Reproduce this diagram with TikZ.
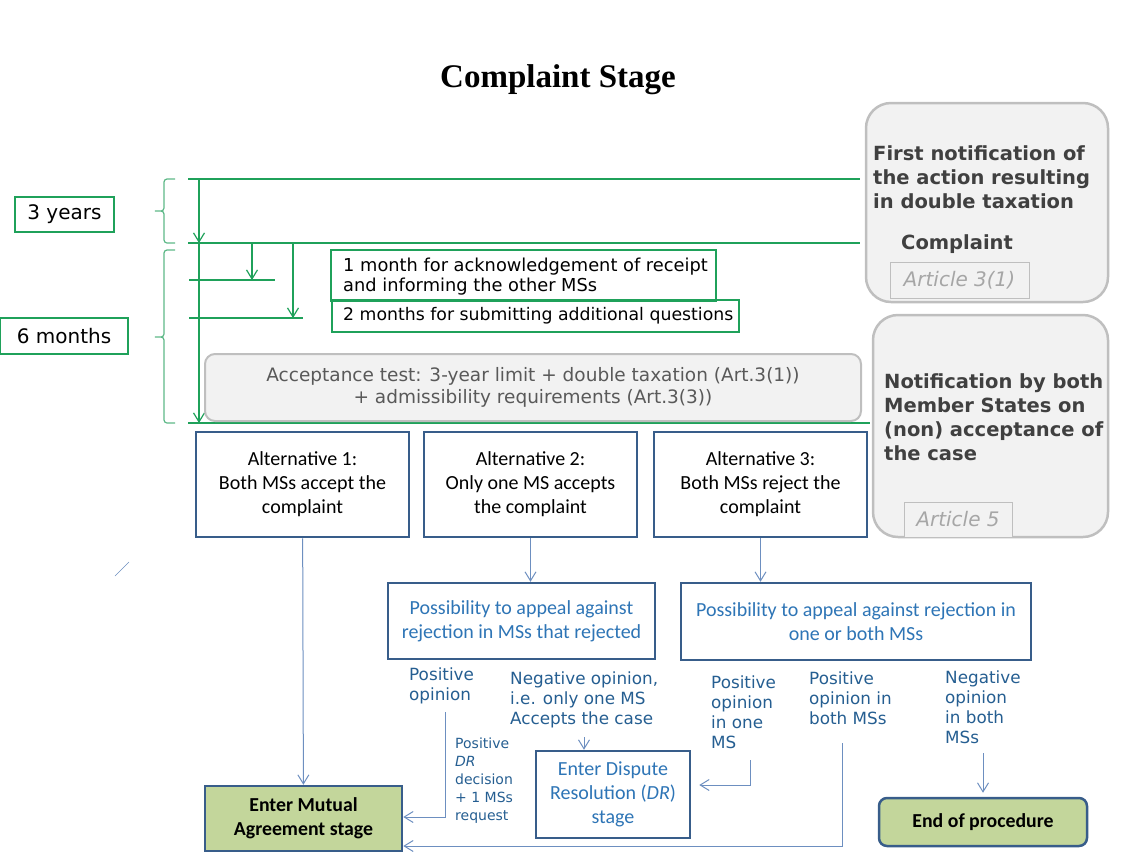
\documentclass[tikz,border=0pt]{standalone}
\usepackage{fontspec}
\setmainfont{DejaVu Sans}
\newfontfamily\calib{Carlito}
\newfontfamily\tnr{Liberation Serif}
\usetikzlibrary{arrows.meta,positioning}

\definecolor{tl}{HTML}{1FA15A}
\definecolor{br}{HTML}{5DB887}
\definecolor{navy}{HTML}{385D8A}
\definecolor{cn}{HTML}{6D8FC0}
\definecolor{bluetxt}{HTML}{2E75B6}
\definecolor{labtxt}{HTML}{255E91}
\definecolor{grayfill}{HTML}{F2F2F2}
\definecolor{grayline}{HTML}{BFBFBF}
\definecolor{darktxt}{HTML}{404040}
\definecolor{midtxt}{HTML}{595959}
\definecolor{arttxt}{HTML}{A6A6A6}
\definecolor{olive}{HTML}{C3D69B}

\begin{document}
\begin{tikzpicture}[x=1pt,y=-1pt,>={Straight Barb[length=9pt,width=11pt]},
    gline/.style={draw=tl,line width=1.2pt},
    gbrace/.style={draw=br,line width=1.2pt,rounded corners=3pt},
    conn/.style={draw=cn,line width=1pt,->},
    timebox/.style={draw=tl,line width=1.2pt,font=\fontsize{20}{24}\selectfont},
    notebox/.style={draw=tl,line width=1.2pt},
    notetext/.style={align=left,anchor=west,inner sep=0pt,font=\fontsize{17.8}{20}\selectfont},
    altbox/.style={draw=navy,line width=2.5pt,fill=white,minimum width=213pt,minimum height=105pt,
      align=center,font=\calib\fontsize{20}{24}\selectfont},
    appeal/.style={draw=navy,line width=2.5pt,fill=white,align=center,text=bluetxt,
      font=\calib\fontsize{20}{24}\selectfont},
    grayrule/.style={draw=grayline,line width=2.5pt,fill=grayfill},
    artbox/.style={draw=grayline,line width=0.8pt,fill=grayfill,text=arttxt,
      font=\itshape\fontsize{20}{22}\selectfont},
    bold/.style={text=darktxt,align=left,anchor=west,inner sep=0pt,
      font=\bfseries\fontsize{19.5}{24}\selectfont},
    lab/.style={text=labtxt,align=left,anchor=west,inner sep=0pt,
      font=\fontsize{16.8}{20}\selectfont},
    stagebox/.style={draw=navy,line width=2.5pt,fill=olive,align=center,
      font=\calib\bfseries\fontsize{19.8}{24}\selectfont}]
\useasboundingbox (0,0) rectangle (1127,855);

% title
\node[anchor=base] (title) at (558,87) {\tnr\bfseries\fontsize{33}{36}\selectfont Complaint Stage};

% time periods
\node[timebox,minimum width=99pt,minimum height=35pt] (yrs) at (64.5,214.5) {3 years};
\node[timebox,minimum width=128pt,minimum height=36pt] (mon) at (64,336) {6 months};
\draw[gbrace] (175,179) -- (164,179) -- (164,211) -- (153,211) -- (164,211) -- (164,243) -- (175,243);
\draw[gbrace] (175,250) -- (164,250) -- (164,337) -- (153,337) -- (164,337) -- (164,423) -- (175,423);

% time line
\coordinate (t1l) at (188,179);  \coordinate (t1r) at (860,179);
\coordinate (t2l) at (188,243);  \coordinate (t2r) at (860,243);
\coordinate (t3l) at (188,423);  \coordinate (t3r) at (870,423);
\coordinate (m1l) at (189,280);  \coordinate (m1r) at (275,280);
\coordinate (m2l) at (189,318);  \coordinate (m2r) at (303,318);
\draw[gline] (t1l) -- (t1r);
\draw[gline] (t2l) -- (t2r);
\draw[gline] (t3l) -- (t3r);
\draw[gline] (m1l) -- (m1r);
\draw[gline] (m2l) -- (m2r);
\draw[gline,->] (t1l -| 199,0) -- (t2l -| 199,0);
\draw[gline,->] (t2l -| 199,0) -- (t3l -| 199,0);
\draw[gline,->] (t2l -| 252,0) -- (m1l -| 252,0);
\draw[gline,->] (t2l -| 293,0) -- (m2l -| 293,0);

\node[notebox,minimum width=385pt,minimum height=51pt] (ack) at (523.5,275.5) {};
\node[notetext] (acktext) at (343,277) {1 month for acknowledgement of receipt\\and informing the other MSs};
\node[notebox,minimum width=407pt,minimum height=32pt] (quest) at (535.5,316) {};
\node[notetext,font=\fontsize{17.3}{20}\selectfont] (questtext) at (343,316)
  {2 months for submitting additional questions};
\node[grayrule,line width=2pt,rounded corners=10pt,minimum width=656pt,minimum height=67pt,
  align=center,text=midtxt,font=\fontsize{18.5}{22}\selectfont] (test) at (533,387.5)
  {Acceptance test: 3-year limit + double taxation (Art.3(1))\\+ admissibility requirements (Art.3(3))};

% notes on the right
\node[grayrule,rounded corners=25pt,minimum width=242pt,minimum height=199pt] (note1) at (987,202.5) {};
\node[bold] (first) at (873,177) {First notification of\\the action resulting\\in double taxation};
\node[bold] (compl) at (901,244) {Complaint};
\node[artbox,minimum width=139pt,minimum height=36pt] (art1) at (959.5,280) {Article 3(1)};
\node[grayrule,rounded corners=25pt,minimum width=235pt,minimum height=222pt] (note2) at (990.5,426) {};
\node[bold] (notif) at (884,417) {Notification by both\\Member States on\\(non) acceptance of\\the case};
\node[artbox,minimum width=108pt,minimum height=35pt] (art5) at (958,519.5) {Article 5};

% alternatives
\node[altbox] (alt1) at (302.5,484.5) {Alternative 1:\\Both MSs accept the\\complaint};
\node[altbox] (alt2) at (530.5,484.5) {Alternative 2:\\Only one MS accepts\\the complaint};
\node[altbox] (alt3) at (760.5,484.5) {Alternative 3:\\Both MSs reject the\\complaint};

\node[appeal,minimum width=267pt,minimum height=76pt] (app1) at (521.5,621)
  {Possibility to appeal against\\rejection in MSs that rejected};
\node[appeal,minimum width=350pt,minimum height=77pt] (app2) at (856,621.5)
  {Possibility to appeal against rejection in\\one or both MSs};

% opinions
\node[lab] (pos1) at (409,686) {Positive\\opinion};
\node[lab] (neg1) at (510,700) {Negative opinion,\\i.e. only one MS\\Accepts the case};
\node[lab,font=\fontsize{14}{18}\selectfont] (dec) at (455,781) {Positive\\\textit{DR}\\decision\\+ 1 MSs\\request};
\node[lab] (pos2) at (711,712) {Positive\\opinion\\in one\\MS};
\node[lab] (pos3) at (809,698) {Positive\\opinion in\\both MSs};
\node[lab] (neg2) at (945,707) {Negative\\opinion\\in both\\MSs};

% stages
\node[appeal,minimum width=154pt,minimum height=87pt] (dr) at (613,794.5)
  {Enter Dispute\\Resolution (\textit{DR})\\stage};
\node[stagebox,minimum width=197pt,minimum height=65pt] (ma) at (303.5,818.5) {Enter Mutual\\Agreement stage};
\node[stagebox,rounded corners=8pt,minimum width=208pt,minimum height=48pt] (endp) at (983,822) {End of procedure};

% connectors
\coordinate (p1) at (445,712);
\coordinate (n1) at (584,737);
\coordinate (p2) at (750,760);
\coordinate (p3) at (842,743);
\coordinate (n2) at (983,753);
\path (alt1) edge[conn] (ma);
\draw[conn] (alt2.south) -- (alt2.south |- app1.north);
\draw[conn] (alt3.south) -- (alt3.south |- app2.north);
\draw[conn] (p1) |- ([yshift=1.5pt]ma.east);
\draw[conn] (p3) |- ([yshift=-27.5pt]ma.east);
\draw[conn] (n1) -- (n1 |- dr.north);
\draw[conn,shorten >=8pt] (p2) |- ([yshift=9.5pt]dr.east);
\draw[conn,shorten >=4pt] (n2) -- (endp.north);
\draw[draw=cn,line width=0.6pt] (115,576) -- (129,562);

\end{tikzpicture}
\end{document}
